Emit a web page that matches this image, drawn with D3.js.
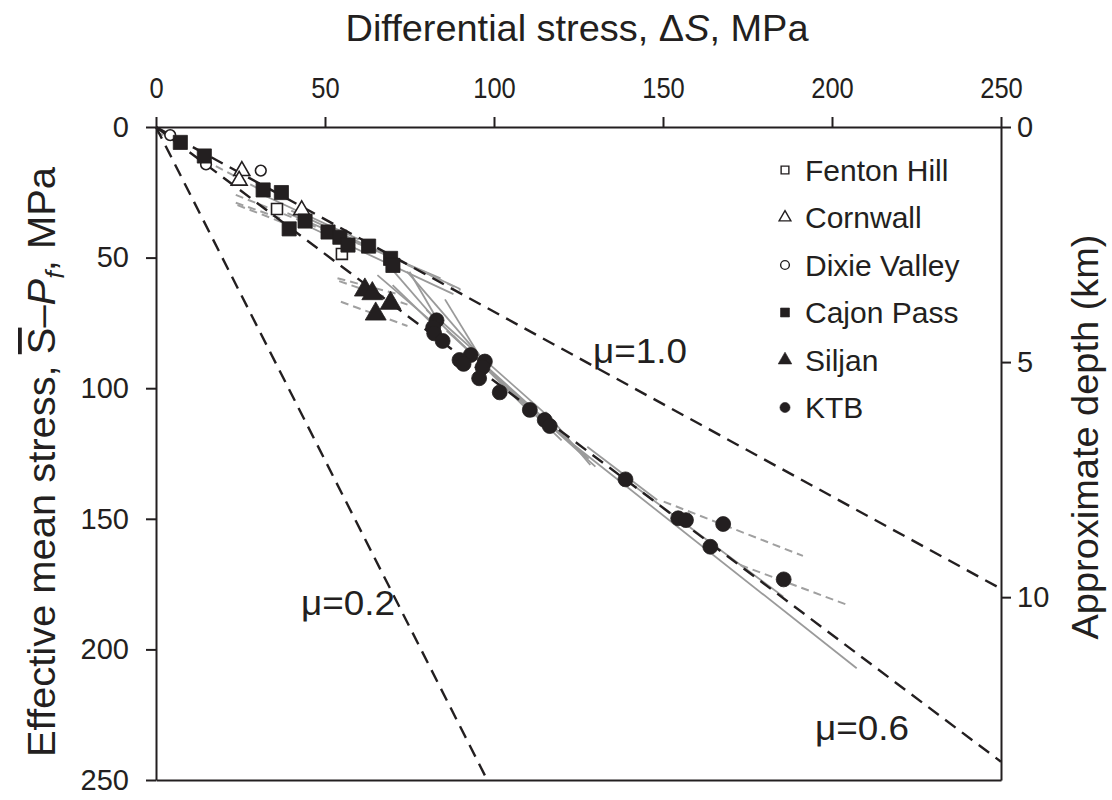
<!DOCTYPE html>
<html><head><meta charset="utf-8">
<script src="https://cdn.jsdelivr.net/npm/d3@7"></script>
<style>
body{margin:0;background:#fff}
svg{display:block}
text{font-family:"Liberation Sans",Arial,sans-serif;fill:#231f20}
</style>
</head><body><svg id="c" width="1112" height="800"></svg>
<script>
// ---------------- data ----------------
const xTicks = [0, 50, 100, 150, 200, 250];
const yTicks = [0, 50, 100, 150, 200, 250];
const depthTicks = [0, 5, 10];
const siteNames = ["Fenton Hill", "Cornwall", "Dixie Valley", "Cajon Pass", "Siljan", "KTB"];

// [differential stress ΔS, effective mean stress S̄−Pf] (MPa)
const fentonHill = [[35.8, 31.4], [55.0, 48.6]];
const cornwall = [[25.4, 16.8], [24.6, 20.5], [43.1, 31.8]];
const dixieValley = [[4.2, 3.1], [14.8, 14.3], [31.0, 16.7]];
const cajonPass = [[7.2, 5.9], [14.3, 11.1], [31.7, 24.1], [37.1, 25.1], [44.1, 36.0], [39.4, 39.0],
  [50.9, 40.2], [54.4, 42.2], [56.8, 45.2], [62.9, 45.6], [69.4, 50.3], [70.1, 53.0]];
const siljan = [[61.8, 62.4], [64.0, 63.8], [69.4, 67.5], [65.0, 71.6]];
const ktb = [[83.0, 74.0], [82.0, 76.8], [82.3, 79.0], [84.8, 81.9], [93.1, 87.3], [89.8, 89.2],
  [91.0, 90.7], [97.3, 89.8], [96.6, 92.0], [95.6, 96.2], [101.7, 101.6], [110.6, 108.3],
  [115.0, 112.2], [116.5, 114.5], [138.9, 134.9], [154.5, 149.8], [156.8, 150.5], [167.8, 152.0],
  [164.0, 160.7], [185.7, 173.2]];

// individual stress profiles [ΔS1, S1, ΔS2, S2]
const graySolid = [
  [65.5, 56.7, 82.2, 75.2], [70.0, 60.5, 82.2, 75.8], [70.4, 55.4, 82.8, 73.9], [75.0, 55.4, 83.3, 73.9],
  [74.3, 55.4, 96.5, 88.6], [85.5, 66.0, 96.8, 89.9], [38.9, 33.0, 84.2, 57.9], [40.0, 32.0, 90.0, 62.0],
  [45.0, 38.0, 88.0, 64.0], [30.0, 25.0, 60.0, 43.0], [80.0, 70.0, 120.0, 120.0], [86.0, 78.0, 128.0, 127.0],
  [88.0, 80.0, 112.0, 111.0], [100.0, 95.0, 130.0, 130.0], [115.2, 109.0, 128.5, 129.4],
  [127.6, 122.4, 148.3, 142.8], [120.0, 118.0, 207.3, 207.2], [140.0, 136.0, 185.6, 179.8],
  [92.0, 85.0, 117.0, 116.0], [84.0, 74.0, 118.0, 113.0]
];
const grayDashed = [
  [150.2, 143.4, 191.4, 164.2], [172.9, 167.7, 204.6, 183.0], [23.6, 26.0, 64.4, 47.0],
  [24.1, 29.9, 39.4, 37.5], [23.6, 29.0, 36.9, 35.0], [0.0, 2.0, 8.0, 6.0], [14.3, 12.6, 31.0, 24.1],
  [53.7, 57.9, 72.4, 64.3], [54.2, 59.0, 74.4, 68.0], [54.7, 66.9, 74.4, 76.2],
  [79.3, 55.4, 90.1, 62.4], [74.3, 52.8, 84.2, 58.6]
];

// frictional-failure lines from origin: end points
const muLabels = ["\u03bc=1.0", "\u03bc=0.6", "\u03bc=0.2"];
const muEndDS = [250, 250, 98];
const muEndS = [176.8, 243, 250];

// ---------------- drawing ----------------
const svg = d3.select("#c");
const L = 156, R = 1001, T = 127, B = 780;
const x = d3.scaleLinear().domain([0, 250]).range([L, R]);
const y = d3.scaleLinear().domain([0, 250]).range([T, B]);
const depth = d3.scaleLinear().domain([0, 250 / 18]).range([T, B]);
const ink = "#231f20";

// gray profiles
const gp = svg.append("g");
gp.selectAll("line.gs").data(graySolid).join("line")
  .attr("x1", d => x(d[0])).attr("y1", d => y(d[1])).attr("x2", d => x(d[2])).attr("y2", d => y(d[3]))
  .attr("stroke", "#9a9a9a").attr("stroke-width", 1.8);
gp.selectAll("line.gd").data(grayDashed).join("line")
  .attr("x1", d => x(d[0])).attr("y1", d => y(d[1])).attr("x2", d => x(d[2])).attr("y2", d => y(d[3]))
  .attr("stroke", "#a0a0a0").attr("stroke-width", 2).attr("stroke-dasharray", "8,5");

// friction lines
svg.append("g").selectAll("line").data(muLabels).join("line")
  .attr("x1", x(0)).attr("y1", y(0))
  .attr("x2", (d, i) => x(muEndDS[i])).attr("y2", (d, i) => y(muEndS[i]))
  .attr("stroke", ink).attr("stroke-width", 2.4).attr("stroke-dasharray", "13,8");

// axes
function styleAxis(g) {
  g.select(".domain").attr("stroke", ink).attr("stroke-width", 2);
  g.selectAll(".tick line").attr("stroke", ink).attr("stroke-width", 2);
  g.selectAll(".tick text").attr("font-size", 29).attr("fill", ink)
    .attr("font-family", "'Liberation Sans',Arial,sans-serif");
}
const gTop = svg.append("g").attr("transform", `translate(0,${T})`)
  .call(d3.axisTop(x).tickValues(xTicks).tickSize(10).tickSizeOuter(0).tickPadding(19)).call(styleAxis);
gTop.selectAll(".tick text").attr("transform", "scale(0.88,1)");
svg.append("g").attr("transform", `translate(${L},0)`)
  .call(d3.axisLeft(y).tickValues(yTicks).tickSize(10).tickSizeOuter(0).tickPadding(17)).call(styleAxis);
svg.append("g").attr("transform", `translate(${R},0)`)
  .call(d3.axisRight(depth).tickValues(depthTicks).tickSize(10).tickSizeOuter(0).tickPadding(6)).call(styleAxis);
svg.append("g").attr("transform", `translate(0,${B})`)
  .call(d3.axisBottom(x).tickValues([]).tickSizeOuter(0)).call(styleAxis);

// markers
const sym = (type, area) => d3.symbol().type(type).size(area)();
const sets = [
  {data: fentonHill, type: d3.symbolSquare, area: 120, fill: "#fff"},
  {data: cornwall, type: d3.symbolTriangle, area: 110, fill: "#fff"},
  {data: dixieValley, type: d3.symbolCircle, area: 90, fill: "#fff"},
  {data: cajonPass, type: d3.symbolSquare, area: 200, fill: ink},
  {data: siljan, type: d3.symbolTriangle, area: 190, fill: ink},
  {data: ktb, type: d3.symbolCircle, area: 175, fill: ink}
];
sets.forEach(s => {
  svg.append("g").selectAll("path").data(s.data).join("path")
    .attr("d", sym(s.type, s.area))
    .attr("transform", d => `translate(${x(d[0])},${y(d[1])})`)
    .attr("fill", s.fill).attr("stroke", ink).attr("stroke-width", s.fill === "#fff" ? 1.6 : 0.8);
});

// legend
const leg = svg.append("g");
siteNames.forEach((name, i) => {
  const s = sets[i];
  const cy = 170 + i * 47.5;
  leg.append("path").attr("d", sym(s.type, s.fill === "#fff" ? 60 : 80))
    .attr("transform", `translate(785,${cy})`)
    .attr("fill", s.fill).attr("stroke", ink).attr("stroke-width", s.fill === "#fff" ? 1.4 : 0.6);
  leg.append("text").attr("x", 805).attr("y", cy).attr("dy", "0.36em")
    .attr("font-size", 30).text(name);
});

// mu labels
const muPos = [[640, 350], [862, 727], [348, 602]];
muLabels.forEach((t, i) => {
  svg.append("text").attr("x", muPos[i][0]).attr("y", muPos[i][1]).attr("dy", "0.36em")
    .attr("text-anchor", "middle").attr("font-size", 35)
    .attr("textLength", 94).attr("lengthAdjust", "spacingAndGlyphs").text(t);
});

// titles
const tt = svg.append("text").attr("x", 577).attr("y", 41).attr("text-anchor", "middle")
  .attr("font-size", 36).attr("textLength", 463).attr("lengthAdjust", "spacingAndGlyphs");
tt.append("tspan").text("Differential stress, \u0394");
tt.append("tspan").attr("font-style", "italic").text("S");
tt.append("tspan").text(", MPa");

const lt = svg.append("text").attr("transform", "translate(55,462) rotate(-90)").attr("text-anchor", "middle")
  .attr("font-size", 38).attr("textLength", 590).attr("lengthAdjust", "spacingAndGlyphs");
lt.append("tspan").text("Effective mean stress, ");
lt.append("tspan").style("text-decoration", "overline").text("S");
lt.append("tspan").text("\u2013");
lt.append("tspan").attr("font-style", "italic").text("P");
lt.append("tspan").attr("font-style", "italic").attr("font-size", 26).attr("dy", 9).text("f");
lt.append("tspan").attr("dy", -9).text(", MPa");

svg.append("text").attr("transform", "translate(1098,437) rotate(-90)").attr("text-anchor", "middle")
  .attr("font-size", 37).attr("textLength", 405).attr("lengthAdjust", "spacingAndGlyphs")
  .text("Approximate depth (km)");
</script></body></html>
